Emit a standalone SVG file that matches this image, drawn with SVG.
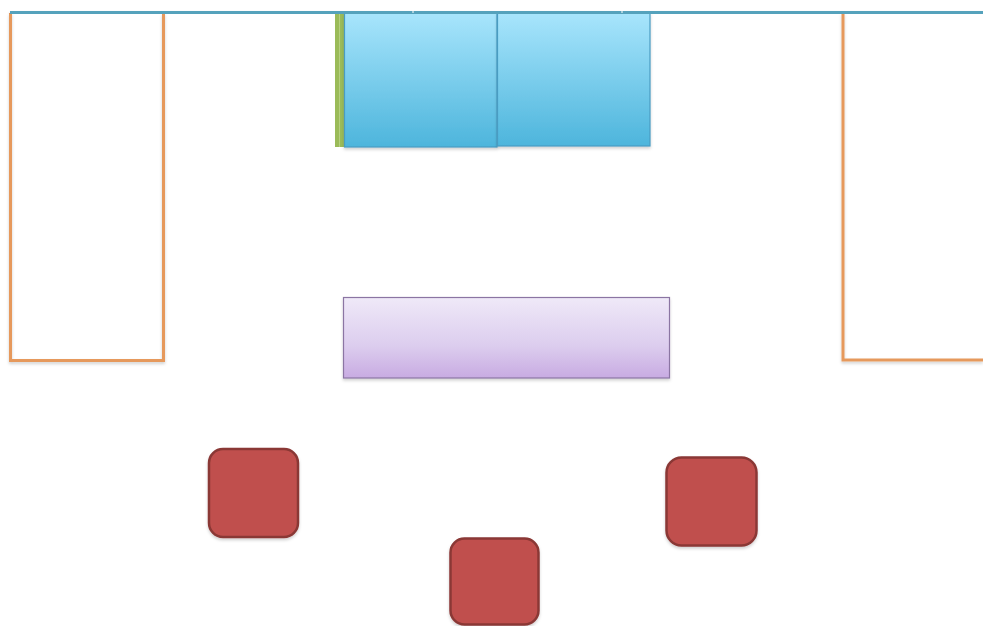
<svg xmlns="http://www.w3.org/2000/svg" width="983" height="626" viewBox="0 0 983 626">
<defs>
<linearGradient id="gBlue" x1="0" y1="0" x2="0" y2="1">
<stop offset="0" stop-color="#A8E5FC"/>
<stop offset="1" stop-color="#4DB5DC"/>
</linearGradient>
<linearGradient id="gPurple" x1="0" y1="0" x2="0" y2="1">
<stop offset="0" stop-color="#EFE9F8"/>
<stop offset="0.6" stop-color="#DCCDEE"/>
<stop offset="1" stop-color="#C8ABE2"/>
</linearGradient>
<filter id="sh" x="-10%" y="-10%" width="120%" height="130%">
<feDropShadow dx="0" dy="2" stdDeviation="1.5" flood-color="#000" flood-opacity="0.18"/>
</filter>
</defs>
<style>
.wall{fill:none;stroke:#E6995C;stroke-width:3}
.blue{fill:url(#gBlue);stroke:#4A9CC2;stroke-width:1.2}
.purple{fill:url(#gPurple);stroke:#8B75A3;stroke-width:1.2}
.seat{fill:#C0504D;stroke:#8A3735;stroke-width:2.5}
</style>
<rect width="983" height="626" fill="#FFFFFF"/>
<g id="left-cabinet" filter="url(#sh)">
<polyline class="wall" points="10.5,13 10.5,360.5 163.5,360.5 163.5,13"/>
</g>
<g id="right-cabinet" filter="url(#sh)">
<polyline class="wall" points="843,13 843,360 983,360"/>
</g>
<g id="green-strip">
<rect x="335" y="14" width="9" height="133" fill="#9BBB59"/>
<line x1="339.5" y1="14" x2="339.5" y2="147" stroke="#B6CF80" stroke-width="1"/>
</g>
<g id="blue-left" filter="url(#sh)">
<rect class="blue" x="344.5" y="13" width="152.5" height="134"/>
</g>
<g id="blue-right" filter="url(#sh)">
<rect class="blue" x="497.5" y="13" width="152.5" height="133"/>
</g>
<g id="top-wall" filter="url(#sh)">
<line x1="10" y1="13" x2="983" y2="13" stroke="#55A2BC" stroke-width="4"/>
<line x1="413" y1="11" x2="413" y2="13" stroke="#FFFFFF" stroke-width="1"/>
<line x1="622" y1="11" x2="622" y2="13" stroke="#FFFFFF" stroke-width="1"/>
</g>
<g id="table" filter="url(#sh)">
<rect class="purple" x="343.5" y="297.5" width="326" height="80.5"/>
</g>
<g id="seat-1" filter="url(#sh)">
<rect class="seat" x="209" y="449" width="89" height="88" rx="14"/>
</g>
<g id="seat-2" filter="url(#sh)">
<rect class="seat" x="450.5" y="538.5" width="88" height="86" rx="14"/>
</g>
<g id="seat-3" filter="url(#sh)">
<rect class="seat" x="666.5" y="457.5" width="90" height="88" rx="15"/>
</g>
<g id="connectors"/>
</svg>
